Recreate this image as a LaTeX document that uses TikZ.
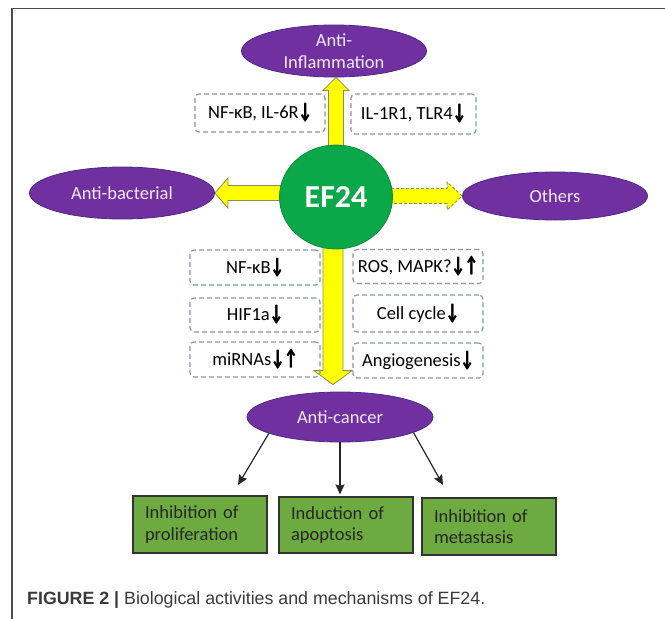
\documentclass[tikz,border=0pt]{standalone}
\usepackage{fontspec}
\usepackage{graphicx}
\setmainfont{Carlito}
\newfontfamily\capfont{Liberation Sans}
\usetikzlibrary{shapes.geometric,calc,arrows.meta,backgrounds}
\definecolor{purp}{HTML}{7030A0}
\definecolor{purpedge}{HTML}{4B2A8C}
\definecolor{ptext}{HTML}{F4EAF8}
\definecolor{efgreen}{HTML}{0BA84A}
\definecolor{efedge}{HTML}{0A8A3E}
\definecolor{arryellow}{HTML}{FFFF00}
\definecolor{arredge}{HTML}{8C8C5A}
\definecolor{dashcol}{HTML}{8497B0}
\definecolor{boxgreen}{HTML}{6DAA3F}
\definecolor{framecol}{HTML}{4D4D4D}
\definecolor{captext}{HTML}{3A3A3A}
\newcommand\heavyglyph[1]{\scalebox{0.75}[1.2]{\bfseries\rlap{#1}\rlap{\kern0.45pt #1}\kern0.9pt #1}}
\newcommand\arrdn{\heavyglyph{↓}}
\newcommand\arrup{\heavyglyph{↑}}
% block arrow: [opts]{start}{end}{half shaft}{half head}{head length}
\newcommand\blkarrow[6][]{%
  \path ($(#3)!#6!(#2)$) coordinate (bh);
  \draw[blockarrow,#1] ($(#2)!#4!90:(#3)$) -- ($(bh)!#4!90:(#3)$) -- ($(bh)!#5!90:(#3)$) -- (#3)
    -- ($(bh)!#5!-90:(#3)$) -- ($(bh)!#4!-90:(#3)$) -- ($(#2)!#4!-90:(#3)$) -- cycle;}
\tikzset{
  purpell/.style={ellipse, fill=purp, draw=purpedge, line width=0.8pt, text=ptext,
    minimum width=185pt, minimum height=52pt, inner sep=-8pt, align=center},
  efnode/.style={ellipse, fill=efgreen, draw=efedge, line width=0.8pt, text=white,
    minimum width=113pt, minimum height=104pt, inner sep=0pt,
    font=\fontsize{32}{36}\selectfont\bfseries},
  dbox/.style={draw=dashcol, dash pattern=on 5pt off 3pt, line width=1.2pt,
    rounded corners=4pt, inner sep=0pt, minimum width=130pt},
  gbox/.style={draw=black!80, fill=boxgreen, line width=1.2pt, text=black!85,
    text width=110pt, inner xsep=12pt, inner ysep=0pt, minimum height=57pt, align=left},
  blockarrow/.style={fill=arryellow, draw=arredge, line width=0.8pt, line join=miter},
  catarrow/.style={draw=black!85, line width=1.2pt, -{Stealth[length=10pt,width=9pt,inset=1.5pt]}},
}
\begin{document}
\begin{tikzpicture}[x=1pt,y=-1pt, font=\fontsize{18.5}{21.5}\selectfont]
\useasboundingbox (0,0) rectangle (665,619);
% frame
\draw[framecol, line width=1.5pt] (12,619) -- (12,8.5) -- (665,8.5);
% ellipses
\node[purpell] (ai) at (334,51) {Anti-\\Inflammation};
\node[purpell] (ab) at (122,193) {Anti-bacterial};
\node[purpell, minimum height=48pt] (ot) at (555,196) {Others};
\node[purpell, minimum height=50pt, minimum width=186pt] (ac) at (340,417) {Anti-cancer};
\node[efnode] (ef) at (336,197) {EF24};
% dashed boxes
\node[dbox, minimum height=38pt] (b1) at (260,113) {NF-κB, IL-6R\arrdn};
\node[dbox, minimum width=125pt, minimum height=40pt] (b2) at (413.5,114) {IL-1R1, TLR4\arrdn};
\node[dbox, minimum height=35pt] (l1) at (255,267.5) {NF-κB\arrdn};
\node[dbox, minimum height=34pt] (l2) at (255,315) {HIF1a\arrdn};
\node[dbox, minimum height=35pt] (l3) at (255,359.5) {miRNAs\arrdn\arrup};
\node[dbox, minimum height=34pt] (r1) at (418,266.5) {ROS, MAPK?\arrdn\arrup};
\node[dbox, minimum height=37pt] (r2) at (418,313.5) {Cell cycle\arrdn};
\node[dbox, minimum height=35pt] (r3) at (418,360.5) {Angiogenesis\arrdn};
% green boxes
\node[gbox] (g1) at (200,524.5) {Inhibition of\\proliferation};
\node[gbox, minimum height=56pt] (g2) at (346,525) {Induction of\\apoptosis};
\node[gbox] (g3) at (489,526.5) {Inhibition of\\metastasis};
% caption
\node[anchor=west, inner sep=0pt, text=captext, font=\capfont\fontsize{17.8}{20}\selectfont] (cap) at (27,600)
  {\textbf{FIGURE 2 |} Biological activities and mechanisms of EF24.};
% block arrows
\coordinate (upE) at (ef.center |- ai.south);
\coordinate (lfS) at (ef.center |- ab.east);
\coordinate (rtS) at (ef.center |- ot.west);
\coordinate (dnS) at ($(ef.center)+(-3,0)$);
\coordinate (dnE) at ($(dnS |- ac.north)+(0,-7)$);
\begin{pgfonlayer}{background}
\blkarrow{ef.center}{upE}{7.5pt}{13pt}{13pt}
\blkarrow{lfS}{ab.east}{7.5pt}{15pt}{13pt}
\blkarrow[dash pattern=on 3pt off 2pt]{rtS}{ot.west}{7.5pt}{14pt}{15pt}
\blkarrow{dnS}{dnE}{10pt}{19pt}{14pt}
\end{pgfonlayer}
% anti-cancer arrows
\coordinate (t1) at (238,485);
\coordinate (t2) at ($(ac.south |- g2.north)+(0,-2)$);
\coordinate (t3) at (443,485);
\draw[catarrow] (ac.193) -- (t1);
\draw[catarrow] (ac.south) -- (t2);
\draw[catarrow] (ac.-12) -- (t3);
\end{tikzpicture}
\end{document}
